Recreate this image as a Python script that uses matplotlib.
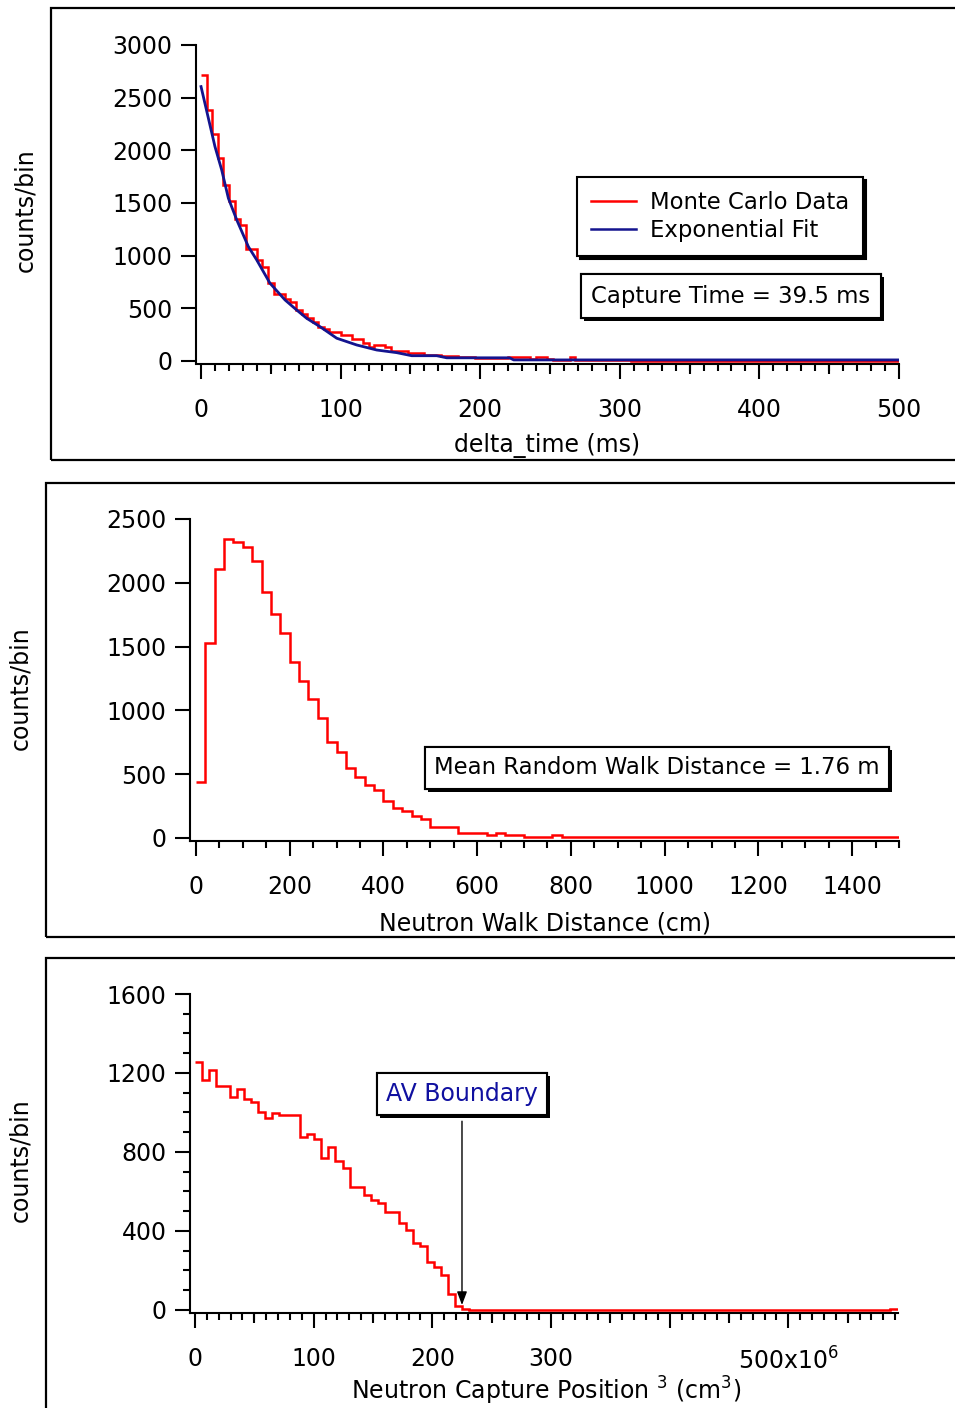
import numpy as np
import matplotlib
matplotlib.use("Agg")
import matplotlib.pyplot as plt
from matplotlib.patches import Rectangle
from matplotlib.lines import Line2D
from matplotlib import patheffects as pe

plt.rcParams['font.family'] = ['DejaVu Sans']
plt.rcParams['mathtext.fontset'] = 'dejavusans'
plt.rcParams['mathtext.default'] = 'regular'

# ---------------- data ----------------
# Panel 1: capture time histogram (4 ms bins, 0-500 ms)
time_bin_width = 4.0
time_counts = [2716, 2383, 2156, 1925, 1671, 1522, 1346, 1294, 1064, 1064,
               959, 890, 738, 636, 636, 586, 563, 484, 446, 405,
               373, 326, 301, 278, 278, 247, 247, 206, 206, 174,
               136, 152, 152, 130, 98, 98, 98, 73, 73, 73,
               57, 57, 57, 50, 50, 50, 40, 35, 35, 30,
               30, 30, 28, 28, 25, 38, 38, 38, 38, 15,
               38, 38, 15, 12, 12, 12, 38] + [6] * 10 + [4] * 15 + [3] * 33
fit_t = [0, 10, 14.8, 19.6, 25.6, 33.9, 39.9, 49.4, 60.2, 68.5, 75.7, 85.2,
         97.2, 111.5, 125.9, 140.2, 150.9, 168.8, 176, 221, 224, 500]
fit_counts = [2605, 2035, 1814, 1545, 1339, 1086, 959, 738, 579, 484, 405, 326,
              216, 152, 104, 79, 50, 50, 30, 30, 10, 10]
capture_text = "Capture Time = 39.5 ms"

# Panel 2: neutron walk distance (20 cm bins, 0-1500 cm)
walk_bin_width = 20.0
walk_counts = [436, 1526, 2108, 2341, 2320, 2278, 2173, 1930, 1753, 1604,
               1377, 1230, 1087, 940, 755, 672, 546, 481, 415, 376,
               290, 233, 212, 172, 149, 89, 89, 89, 42, 42,
               42, 24, 42, 24, 24, 8, 8, 8, 24, 5] + [4] * 35
walk_text = "Mean Random Walk Distance = 1.76 m"

# Panel 3: neutron capture position (r^3, 100 bins over 0-592 x10^6 cm^3)
pos_bin_width = 5.92
pos_counts = [1254, 1165, 1215, 1134, 1134, 1080, 1119, 1067, 1055, 1004,
              974, 999, 987, 987, 987, 878, 891, 866, 768, 824,
              756, 717, 625, 625, 582, 557, 540, 498, 498, 439,
              405, 338, 324, 245, 216, 177, 81, 20, 3] + [0] * 60 + [5]
av_boundary = 225
av_text = "AV Boundary"

x1_ticks = [0, 100, 200, 300, 400, 500]
y1_ticks = [0, 500, 1000, 1500, 2000, 2500, 3000]
x2_ticks = [0, 200, 400, 600, 800, 1000, 1200, 1400]
y2_ticks = [0, 500, 1000, 1500, 2000, 2500]
x3_ticks = [0, 100, 200, 300, 400, 500]
x3_labels = ["0", "100", "200", "300", "", "500x10$^{6}$"]
y3_ticks = [0, 400, 800, 1200, 1600]

# ---------------- layout ----------------
W, H = 955, 1408
fig = plt.figure(figsize=(W / 100, H / 100), dpi=100)
FS = 17
FS_BOX = 16.4
RED = '#ff0000'
BLUE = '#14148f'
NAVY = '#1010a0'


def rect(l, r, t, b):
    return [l / W, 1 - b / H, (r - l) / W, (b - t) / H]


def frame(l, t, r, b):
    fig.add_artist(Rectangle((l / W, 1 - b / H), (r - l) / W, (b - t) / H,
                             transform=fig.transFigure, fill=False,
                             lw=1.6, ec='black'))


def style(ax):
    for s in ('top', 'right'):
        ax.spines[s].set_visible(False)
    for s in ('left', 'bottom'):
        ax.spines[s].set_linewidth(1.5)
    ax.tick_params(axis='both', which='major', length=10.8, width=1.5,
                   labelsize=FS, direction='out')
    ax.tick_params(axis='both', which='minor', length=5, width=1.5,
                   direction='out')
    ax.tick_params(axis='x', which='major', pad=14)
    ax.tick_params(axis='y', which='major', pad=6)


def medium_ticks(ax, ticks):
    sec = ax.secondary_xaxis('bottom')
    sec.set_xticks(ticks)
    sec.set_xticklabels([])
    sec.tick_params(length=7.5, width=1.5)
    sec.spines['bottom'].set_visible(False)


shadow = [pe.withSimplePatchShadow(offset=(2.2, -2.2), shadow_rgbFace='black',
                                   alpha=1.0), pe.Normal()]

frame(51, 8, 965, 460)
frame(46, 483, 965, 937)
frame(46, 958, 965, 1420)

# ---- Panel 1 ----
ax1 = fig.add_axes(rect(196, 899, 45, 363.5))
edges1 = np.arange(len(time_counts) + 1) * time_bin_width
ax1.stairs(time_counts, edges1, baseline=None, color=RED, lw=1.8)
ax1.plot(fit_t, fit_counts, color=BLUE, lw=2.0)
ax1.set_xlim(-3.6, 500)
ax1.set_ylim(-24, 3000)
style(ax1)
ax1.set_xticks(x1_ticks)
ax1.set_xticks(np.arange(0, 501, 10), minor=True)
ax1.set_yticks(y1_ticks)
medium_ticks(ax1, np.arange(50, 500, 100))
fig.text(547, H - 446, "delta_time (ms)", transform=None, fontsize=FS,
         ha='center', va='center')
fig.text(25, H - 210, "counts/bin", transform=None, fontsize=FS,
         ha='center', va='center', rotation=90)
leg = ax1.legend([Line2D([], [], color=RED, lw=1.8), Line2D([], [], color=BLUE, lw=1.8)],
                 ["Monte Carlo Data", "Exponential Fit"],
                 loc='upper left', bbox_to_anchor=(577 / W, 1 - 177 / H),
                 bbox_transform=fig.transFigure, borderaxespad=0,
                 fontsize=FS_BOX, frameon=True, fancybox=False, framealpha=1,
                 edgecolor='black', handlelength=2.0, handletextpad=0.62,
                 labelspacing=0.25, borderpad=0.6,
                 shadow={'color': 'black', 'alpha': 1})
leg.get_frame().set_linewidth(1.5)
t1 = fig.text(731, H - 296, capture_text, transform=None, fontsize=FS_BOX,
              ha='center', va='center',
              bbox=dict(boxstyle='square,pad=0.45', fc='white', ec='black', lw=1.5))
t1.get_bbox_patch().set_path_effects(shadow)

# ---- Panel 2 ----
ax2 = fig.add_axes(rect(190, 899, 519, 840.5))
edges2 = np.arange(len(walk_counts) + 1) * walk_bin_width
ax2.stairs(walk_counts, edges2, baseline=None, color=RED, lw=1.8)
ax2.set_xlim(-12.8, 1500)
ax2.set_ylim(-20, 2500)
style(ax2)
ax2.set_xticks(x2_ticks)
ax2.set_xticks(np.arange(0, 1501, 50), minor=True)
ax2.set_yticks(y2_ticks)
fig.text(545, H - 923, "Neutron Walk Distance (cm)", transform=None, fontsize=FS,
         ha='center', va='center')
fig.text(20, H - 688, "counts/bin", transform=None, fontsize=FS,
         ha='center', va='center', rotation=90)
t2 = fig.text(657, H - 768, walk_text, transform=None, fontsize=FS_BOX,
              ha='center', va='center',
              bbox=dict(boxstyle='square,pad=0.4', fc='white', ec='black', lw=1.5))
t2.get_bbox_patch().set_path_effects(shadow)

# ---- Panel 3 ----
ax3 = fig.add_axes(rect(190, 897.5, 994, 1312.5))
edges3 = np.arange(len(pos_counts) + 1) * pos_bin_width
ax3.stairs(pos_counts, edges3, baseline=None, color=RED, lw=1.8)
ax3.set_xlim(-4.2, 592)
ax3.set_ylim(-12.7, 1600)
style(ax3)
ax3.set_xticks(x3_ticks)
ax3.set_xticklabels(x3_labels)
ax3.set_xticks(np.arange(0, 592, 10), minor=True)
ax3.set_yticks(y3_ticks)
ax3.set_yticks(np.arange(0, 1601, 100), minor=True)
medium_ticks(ax3, np.arange(50, 592, 100))
fig.text(546, H - 1391, "Neutron Capture Position $^{3}$ (cm$^{3}$)", transform=None,
         fontsize=FS, ha='center', va='center')
fig.text(20, H - 1160, "counts/bin", transform=None, fontsize=FS,
         ha='center', va='center', rotation=90)
ann = ax3.annotate(av_text, xy=(av_boundary, 25), xytext=(av_boundary, 1094),
                   textcoords='data', fontsize=FS, color=NAVY,
                   ha='center', va='center',
                   bbox=dict(boxstyle='square,pad=0.38', fc='white', ec='black', lw=1.5),
                   arrowprops=dict(arrowstyle='-|>,head_length=0.8,head_width=0.3',
                                   color='black', lw=1.0, mutation_scale=10,
                                   shrinkA=4, shrinkB=0))
ann.get_bbox_patch().set_path_effects(shadow)

fig.savefig("out.png", dpi=100)
